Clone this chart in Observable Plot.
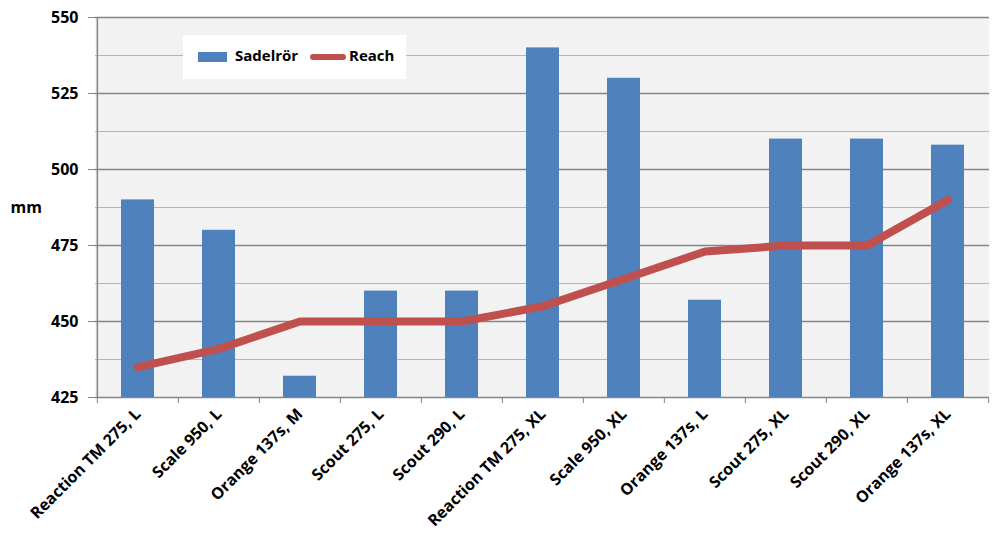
<!DOCTYPE html>
<html><head><meta charset="utf-8">
<script src="https://cdn.jsdelivr.net/npm/d3@7"></script>
<script src="https://cdn.jsdelivr.net/npm/@observablehq/plot@0.6"></script>
<style>
body{margin:0;background:#fff;font-family:"Open Sans",sans-serif;}
#wrap{position:relative;width:1000px;height:540px;}
#legend{position:absolute;left:183px;top:35px;width:223px;height:44px;background:#fff;font-weight:700;font-size:15px;color:#000;}
#legend .sw1{position:absolute;left:15px;top:17px;width:29px;height:10px;background:#4f81bd;}
#legend .t1{position:absolute;left:52px;top:10px;}
#legend .sw2{position:absolute;left:127px;top:19px;width:36px;height:6px;border-radius:3px;background:#c0504d;}
#legend .t2{position:absolute;left:166px;top:10px;}
</style></head><body>
<div id="wrap"></div>
<script>
const categories = ["Reaction TM 275, L","Scale 950, L","Orange 137s, M","Scout 275, L","Scout 290, L","Reaction TM 275, XL","Scale 950, XL","Orange 137s, L","Scout 275, XL","Scout 290, XL","Orange 137s, XL"];
const sadelror = [490,480,432,460,460,540,530,457,510,510,508];
const reach = [435,441,450,450,450,455,464,473,475,475,490];
const majorTicks = [425,450,475,500,525,550];
const minorTicks = [437.5,462.5,487.5,512.5,537.5];
const seriesNames = ["Sadelrör","Reach"];
const yLabel = "mm";

const data = categories.map((c,i)=>({cat:c, bar:sadelror[i], reach:reach[i]}));
const W=1000,H=540,ML=95,MR=11,MT=17,MB=143;
const step=(W-ML-MR)/categories.length;

const chart = Plot.plot({
  width:W, height:H, marginLeft:ML, marginRight:MR, marginTop:MT, marginBottom:MB,
  style:{fontFamily:"'Open Sans', sans-serif", background:"#fff", color:"#000"},
  x:{type:"band", domain:categories, paddingInner:0.595, paddingOuter:0.2975, label:null},
  y:{domain:[425,550], label:null},
  marks:[
    Plot.frame({fill:"#f2f2f2", stroke:"none"}),
    Plot.ruleY(minorTicks,{stroke:"#b5b5b5", strokeWidth:1}),
    Plot.ruleY(majorTicks,{stroke:"#868686", strokeWidth:1.5}),
    Plot.barY(data,{x:"cat", y1:425, y2:"bar", fill:"#4f81bd"}),
    Plot.ruleX(categories,{x:d=>d, y1:425, y2:425, insetBottom:-6, dx:-step/2, stroke:"#868686"}),
    Plot.ruleX([categories[categories.length-1]],{x:d=>d, y1:425, y2:425, insetBottom:-6, dx:step/2, stroke:"#868686"}),
    Plot.ruleX([categories[0]],{x:d=>d, y1:425, y2:550, dx:-step/2, stroke:"#868686", strokeWidth:1.5}),
    Plot.line(data,{x:"cat", y:"reach", stroke:"#c0504d", strokeWidth:8, strokeLinecap:"round", strokeLinejoin:"round"}),
    Plot.axisY({ticks:majorTicks, tickSize:7, tickPadding:10, fontSize:16, fontWeight:"bold", stroke:"#868686", label:null}),
    Plot.axisX({tickSize:0, tickRotate:-45, tickPadding:14, fontSize:16, fontWeight:"bold", label:null}),
    Plot.text([yLabel],{frameAnchor:"left", text:d=>d, dx:-85, textAnchor:"start", fontSize:16, fontWeight:"bold"})
  ]
});
const wrap=document.getElementById("wrap");
wrap.appendChild(chart);
const lg=document.createElement("div");
lg.id="legend";
lg.innerHTML=`<div class="sw1"></div><div class="t1">${seriesNames[0]}</div><div class="sw2"></div><div class="t2">${seriesNames[1]}</div>`;
wrap.appendChild(lg);
</script>
</body></html>
